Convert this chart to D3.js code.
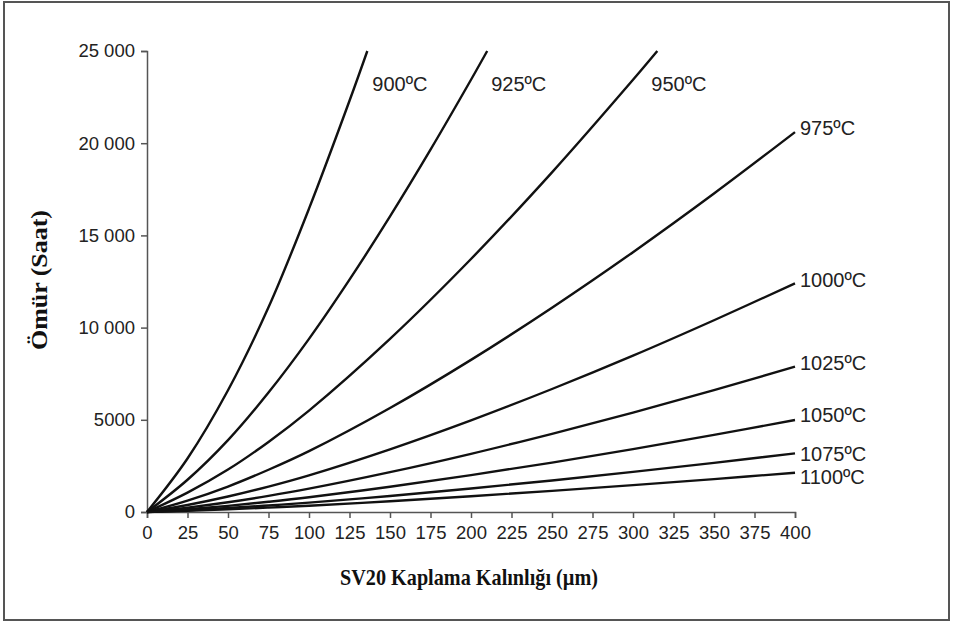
<!DOCTYPE html>
<html>
<head>
<meta charset="utf-8">
<script src="https://cdn.jsdelivr.net/npm/d3@7"></script>
<style>
  body { margin: 0; background: #fff; }
  svg { display: block; }
  .tick text { font-family: "Liberation Sans", Arial, sans-serif; font-size: 18.5px; fill: #222; }
  .domain, .tick line { stroke: #555; stroke-width: 1.5px; }
</style>
</head>
<body>
<div id="chart"></div>
<script>
// thickness values (µm) and read-off lifetimes (hours) per temperature
const temps = ["900ºC", "925ºC", "950ºC", "975ºC", "1000ºC", "1025ºC", "1050ºC", "1075ºC", "1100ºC"];

const x900 = [0, 25, 50, 75, 100, 125, 136];
const y900 = [0, 2900, 6600, 11100, 16450, 22300, 25000];

const x925 = [0, 25, 50, 75, 100, 125, 150, 175, 200, 210];
const y925 = [0, 1750, 3900, 6480, 9390, 12600, 16030, 19650, 23440, 25000];

const x950 = [0, 25, 50, 75, 100, 150, 200, 250, 300, 315];
const y950 = [0, 1050, 2300, 3800, 5500, 9390, 13720, 18420, 23440, 25000];

const xLow = [0, 25, 50, 75, 100, 150, 200, 250, 300, 350, 400];
const y975 = [0, 620, 1380, 2290, 3300, 5640, 8250, 11080, 14090, 17270, 20600];
const y1000 = [0, 380, 840, 1380, 1990, 3400, 4970, 6670, 8480, 10400, 12400];
const y1025 = [0, 240, 530, 875, 1265, 2160, 3155, 4240, 5390, 6610, 7880];
const y1050 = [0, 155, 335, 555, 800, 1370, 2000, 2680, 3410, 4180, 4990];
const y1075 = [0, 98, 215, 355, 510, 870, 1275, 1710, 2175, 2665, 3180];
const y1100 = [0, 66, 142, 238, 340, 585, 855, 1145, 1455, 1785, 2130];

const xTicks = [0, 25, 50, 75, 100, 125, 150, 175, 200, 225, 250, 275, 300, 325, 350, 375, 400];
const yTicks = [0, 5000, 10000, 15000, 20000, 25000];
const yTickLabels = ["0", "5000", "10 000", "15 000", "20 000", "25 000"];

const xTitle = "SV20 Kaplama Kalınlığı (µm)";
const yTitle = "Ömür (Saat)";

const seriesX = [x900, x925, x950, xLow, xLow, xLow, xLow, xLow, xLow];
const seriesY = [y900, y925, y950, y975, y1000, y1025, y1050, y1075, y1100];

const series = temps.map((t, i) => ({
    name: t,
    points: seriesX[i].map((v, j) => ({ x: v, y: seriesY[i][j] }))
}));

const width = 954, height = 623;

const svg = d3.select("#chart").append("svg")
    .attr("width", width)
    .attr("height", height);

// frame around the figure
svg.append("rect")
    .attr("x", 4).attr("y", 2)
    .attr("width", 945).attr("height", 618)
    .attr("fill", "none")
    .attr("stroke", "#555")
    .attr("stroke-width", 2);

const x = d3.scaleLinear().domain([0, 400]).range([147, 795]);
const y = d3.scaleLinear().domain([0, 25000]).range([512, 51]);

svg.append("g")
    .attr("transform", "translate(0,512)")
    .call(d3.axisBottom(x).tickValues(xTicks).tickSize(6).tickPadding(4))
    .call(g => g.selectAll("text").attr("dy", "0.9em"));

svg.append("g")
    .attr("transform", "translate(147,0)")
    .call(d3.axisLeft(y).tickValues(yTicks).tickFormat((d, i) => yTickLabels[i]).tickSize(6).tickPadding(6));

const line = d3.line()
    .x(d => x(d.x))
    .y(d => y(d.y))
    .curve(d3.curveCatmullRom.alpha(0.5));

svg.append("g").selectAll("path").data(series).enter().append("path")
    .attr("d", d => line(d.points))
    .attr("fill", "none")
    .attr("stroke", "#111")
    .attr("stroke-width", 2.4);

// curve labels: the three steep curves are labelled under the top edge, the rest at the right end
const labelFont = "'Liberation Sans', Arial, sans-serif";
const topDx = [5, 4, -6];
const rightDy = [-4, -3, -4, -5, 1, 4];

svg.append("g").selectAll("text").data(series).enter().append("text")
    .attr("x", (d, i) => {
        const last = d.points[d.points.length - 1];
        return i < 3 ? x(last.x) + topDx[i] : x(last.x) + 5;
    })
    .attr("y", (d, i) => {
        const last = d.points[d.points.length - 1];
        return i < 3 ? y(last.y) + 33 : y(last.y) + rightDy[i - 3];
    })
    .attr("dy", "0.35em")
    .style("font-family", labelFont)
    .style("font-size", "20px")
    .style("fill", "#222")
    .text(d => d.name);

svg.append("text")
    .attr("x", 469)
    .attr("y", 585)
    .attr("text-anchor", "middle")
    .attr("textLength", 258)
    .attr("lengthAdjust", "spacingAndGlyphs")
    .style("font-family", "'Liberation Serif', 'Times New Roman', serif")
    .style("font-weight", "bold")
    .style("font-size", "23px")
    .style("fill", "#111")
    .text(xTitle);

svg.append("text")
    .attr("transform", "translate(47,280) rotate(-90)")
    .attr("text-anchor", "middle")
    .attr("textLength", 140)
    .attr("lengthAdjust", "spacingAndGlyphs")
    .style("font-family", "'Liberation Serif', 'Times New Roman', serif")
    .style("font-weight", "bold")
    .style("font-size", "23px")
    .style("fill", "#111")
    .text(yTitle);
</script>
</body>
</html>
